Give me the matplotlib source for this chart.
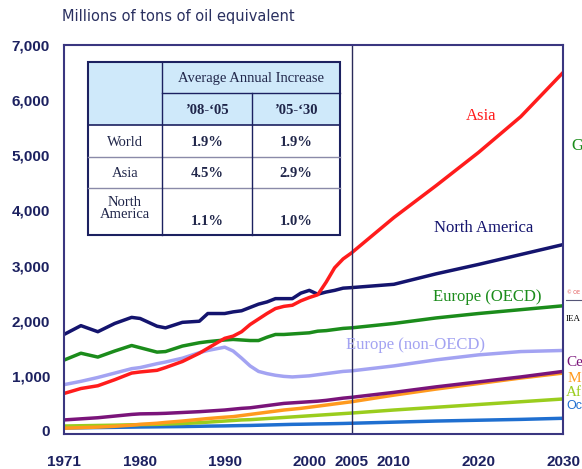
import matplotlib
matplotlib.use("Agg")
import matplotlib.pyplot as plt
from matplotlib.patches import Rectangle

# data (Mtoe)
years = [1971, 1973, 1975, 1977, 1979, 1980, 1982, 1983, 1985, 1987, 1988,
         1990, 1991, 1992, 1993, 1994, 1995, 1996, 1997, 1998, 1999, 2000,
         2001, 2002, 2003, 2004, 2005, 2010, 2015, 2020, 2025, 2030]

asia = [680, 770, 820, 930, 1050, 1070, 1100, 1150, 1260, 1410, 1500,
        1680, 1720, 1800, 1930, 2030, 2130, 2220, 2260, 2280, 2360, 2420,
        2470, 2700, 2960, 3120, 3230, 3870, 4450, 5050, 5700, 6500]
north_america = [1750, 1910, 1800, 1950, 2060, 2040, 1900, 1870, 1970, 1990, 2130,
                 2130, 2160, 2180, 2240, 2300, 2340, 2400, 2400, 2400, 2500, 2550,
                 2480, 2520, 2550, 2590, 2600, 2660, 2850, 3020, 3200, 3380]
europe_oecd = [1285, 1410, 1340, 1450, 1550, 1510, 1430, 1440, 1540, 1600, 1620,
               1650, 1660, 1650, 1640, 1640, 1700, 1750, 1750, 1760, 1770, 1780,
               1810, 1820, 1840, 1860, 1870, 1950, 2050, 2130, 2200, 2270]
europe_non_oecd = [840, 900, 970, 1050, 1130, 1150, 1220, 1250, 1320, 1420, 1460,
                   1520, 1450, 1320, 1180, 1080, 1040, 1010, 990, 980, 990, 1000,
                   1020, 1040, 1060, 1080, 1090, 1180, 1290, 1380, 1440, 1460]
central_sa = [200, 220, 240, 270, 300, 310, 315, 320, 335, 350, 360,
              380, 395, 410, 420, 440, 460, 480, 500, 510, 520, 530,
              540, 555, 575, 595, 610, 700, 800, 890, 980, 1080]
middle_east = [50, 60, 70, 85, 105, 120, 140, 155, 180, 210, 225,
               250, 260, 280, 300, 320, 340, 360, 380, 395, 410, 430,
               450, 470, 490, 510, 530, 650, 760, 860, 960, 1050]
africa = [90, 95, 100, 105, 112, 115, 120, 125, 135, 150, 160,
          180, 190, 200, 205, 215, 225, 235, 245, 255, 265, 275,
          285, 295, 305, 315, 325, 380, 430, 480, 530, 580]
oceania = [55, 58, 62, 66, 70, 72, 75, 77, 80, 85, 88,
           92, 95, 98, 100, 104, 108, 112, 116, 120, 122, 125,
           128, 130, 133, 136, 140, 160, 180, 195, 210, 230]

xticks = [1971, 1980, 1990, 2000, 2005, 2010, 2020, 2030]
yticks = [0, 1000, 2000, 3000, 4000, 5000, 6000, 7000]

table_cols = ["\u201908-\u201805", "\u201905-\u201830"]
table_rows = ["World", "Asia", "North\nAmerica"]
table_vals = [["1.9%", "1.9%"], ["4.5%", "2.9%"], ["1.1%", "1.0%"]]

navy = "#1c2160"
series = [
    (oceania, "#1f6fd0"),
    (africa, "#9acd1e"),
    (middle_east, "#ff9a1e"),
    (central_sa, "#7a147a"),
    (europe_non_oecd, "#a3a3f2"),
    (europe_oecd, "#1b8c1b"),
    (north_america, "#14146e"),
    (asia, "#ff1c1c"),
]

fig = plt.figure(figsize=(5.82, 4.69), dpi=100)
ax = fig.add_axes([64 / 582, 1 - 434 / 469, (563 - 64) / 582, (434 - 45) / 469])

for vals, col in series:
    ax.plot(years, vals, color=col, lw=2.5, solid_capstyle="round")

ax.axvline(2005, color="#2a2a5a", lw=1.0)
ax.set_xlim(1971, 2030)
ax.set_ylim(-55, 6980)
ax.set_xticks(xticks)
ax.set_yticks(yticks)
ax.set_yticklabels([f"{v:,}" for v in yticks])
ax.tick_params(length=0, pad=15)
ax.tick_params(axis="y", pad=10)
for lab in ax.get_xticklabels() + ax.get_yticklabels():
    lab.set_fontfamily("Liberation Sans")
    lab.set_fontweight("bold")
    lab.set_fontsize(11)
    lab.set_color(navy)
for sp in ax.spines.values():
    sp.set_color("#3a3680")
    sp.set_linewidth(1.5)

serif = "Liberation Serif"
ax.text(2020.3, 5640, "Asia", color="#ff1c1c", fontsize=12, family=serif, ha="center")
ax.text(2020.6, 3600, "North America", color="#14146e", fontsize=12, family=serif, ha="center")
ax.text(2021.1, 2360, "Europe (OECD)", color="#1b8c1b", fontsize=12, family=serif, ha="center")
ax.text(2012.6, 1480, "Europe (non-OECD)", color="#a3a3f2", fontsize=12, family=serif, ha="center")

# overlay in pixel coordinates for title, inset table and cut-off labels
ov = fig.add_axes([0, 0, 1, 1])
ov.set_xlim(0, 582)
ov.set_ylim(469, 0)
ov.axis("off")
ov.patch.set_visible(False)

ov.text(62, 17, "Millions of tons of oil equivalent", fontsize=10.5,
        family="DejaVu Sans", color="#2a3060", va="center")

# table geometry
L, C1, C2, R = 88, 162, 252, 340
T, H1, H2 = 62, 93, 125
rb = [157, 188, 235]
blue = "#cfe9fa"
ov.add_patch(Rectangle((L, T), R - L, H2 - T, facecolor=blue, edgecolor="none"))
ov.add_patch(Rectangle((L, H2), R - L, rb[-1] - H2, facecolor="white", edgecolor="none"))
grey = "#8a8aa8"
ov.plot([C1, R], [H1, H1], color=navy, lw=1.0)
ov.plot([L, R], [H2, H2], color=navy, lw=1.2)
for y in rb[:-1]:
    ov.plot([L, R], [y, y], color=grey, lw=1.0)
ov.plot([C1, C1], [T, rb[-1]], color=navy, lw=1.0)
ov.plot([C2, C2], [H1, rb[-1]], color=navy, lw=1.0)
ov.add_patch(Rectangle((L, T), R - L, rb[-1] - T, facecolor="none", edgecolor=navy, lw=1.5))

tc = "#20264a"
ov.text((C1 + R) / 2, (T + H1) / 2 + 1, "Average Annual Increase", fontsize=10.5,
        family=serif, color=tc, ha="center", va="center")
for j, lab in enumerate(table_cols):
    cx = (C1 + C2) / 2 if j == 0 else (C2 + R) / 2
    ov.text(cx, (H1 + H2) / 2 + 1, lab, fontsize=10.5, family=serif, fontweight="bold",
            color=tc, ha="center", va="center")
tops = [H2] + rb[:-1]
for i, lab in enumerate(table_rows):
    cy = (tops[i] + rb[i]) / 2 + 1
    ov.text((L + C1) / 2, cy - (4 if i == 2 else 0), lab, fontsize=10.5, family=serif,
            color=tc, ha="center", va="center", linespacing=0.95)
    vy = cy + (9 if i == 2 else 0)
    ov.text((C1 + C2) / 2, vy, table_vals[i][0], fontsize=10.5, family=serif,
            fontweight="bold", color=tc, ha="center", va="center")
    ov.text((C2 + R) / 2, vy, table_vals[i][1], fontsize=10.5, family=serif,
            fontweight="bold", color=tc, ha="center", va="center")

# labels cut off at the right edge of the original picture (only visible part)
ov.text(571, 146, "G", fontsize=12, family=serif, color="#1b8c1b", va="center")
ov.text(567, 292, "\u00a9 OE", fontsize=3.5, color="#e05050", va="center")
ov.plot([566, 582], [300, 300], color="#555577", lw=0.8)
ov.text(566, 319, "IEA", fontsize=6.5, family=serif, color="black", va="center")
ov.text(566, 362, "Ce", fontsize=11, family=serif, color="#7a147a", va="center")
ov.text(568, 378, "M", fontsize=11, family=serif, color="#ff9a1e", va="center")
ov.text(566, 393, "Af", fontsize=11, family=serif, color="#9acd1e", va="center")
ov.text(566, 406, "Oc", fontsize=9, family="Liberation Sans", color="#1f6fd0", va="center")

fig.savefig("out.png", dpi=100)
